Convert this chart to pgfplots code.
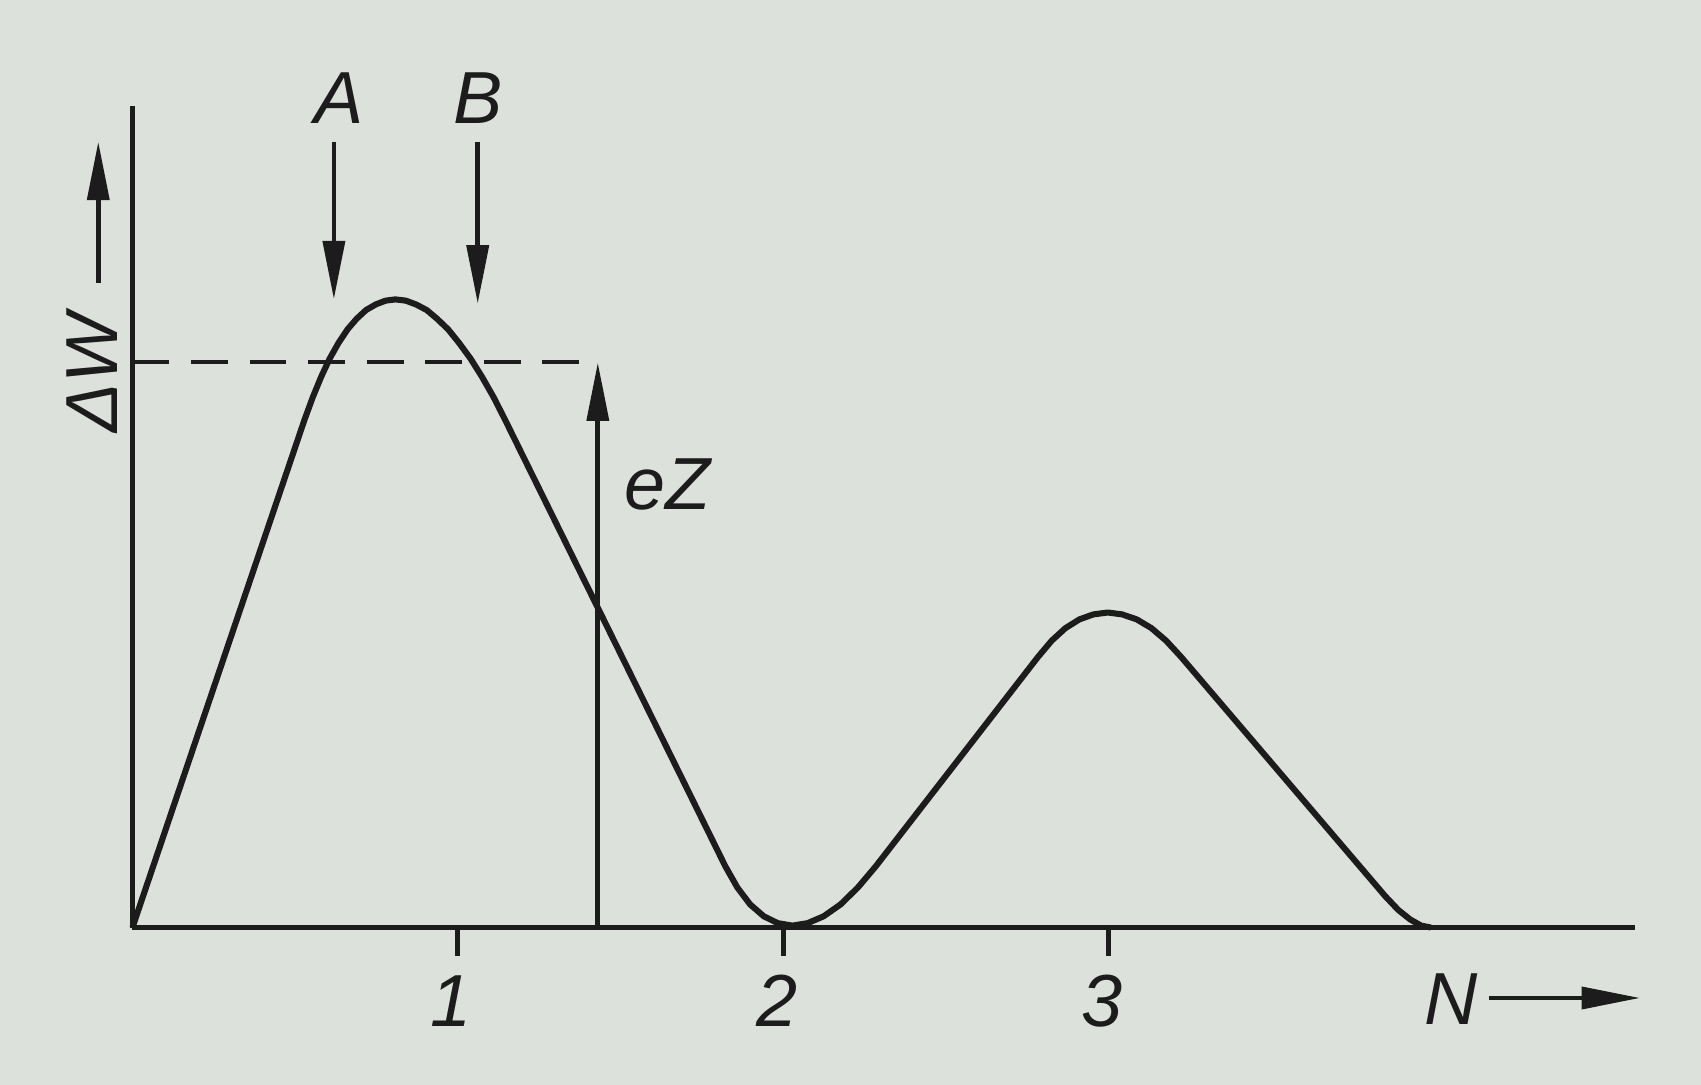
\documentclass[border=0pt]{standalone}
\usepackage{fontspec}
\setmainfont{Liberation Sans}
\usepackage{pgfplots}
\pgfplotsset{compat=1.18}
\usetikzlibrary{arrows.meta,backgrounds}

\definecolor{paper}{RGB}{221,225,219}
\definecolor{ink}{RGB}{28,28,28}

\tikzset{
  tip/.style={ink, line width=1.1pt, -{Triangle[length=13.5pt,width=5pt]}},
}

\begin{document}
\begin{tikzpicture}[font=\fontsize{17}{19}\selectfont\itshape]
\begin{axis}[
    x=75pt, y=143.75pt,
    xmin=0, xmax=4.617,
    ymin=0, ymax=1.317,
    axis lines=left,
    axis line style={-, line width=1.1pt, ink},
    xtick={1,2,3},
    xticklabels={1,2,3},
    ytick=\empty,
    tick align=outside,
    major tick length=6.5pt,
    tick style={line width=1.1pt, ink},
    xticklabel style={font=\fontsize{17}{19}\selectfont\itshape, text=ink, yshift=-1pt, xshift=-1.5pt},
    clip=false,
]
\coordinate (bl) at (axis cs:-0.407,-0.252);
\coordinate (tr) at (axis cs:4.82,1.487);

% energy curve: straight flanks, rounded tops and bottom
\addplot[ink, line width=1.4pt, line join=round] coordinates {
    (0,0) (0.528,0.813) (0.554,0.850) (0.580,0.883) (0.606,0.912)
    (0.633,0.937) (0.661,0.959) (0.689,0.976) (0.718,0.990) (0.748,0.999)
    (0.778,1.005) (0.808,1.007) (0.840,1.005) (0.871,0.999) (0.904,0.990)
    (0.936,0.976) (0.970,0.959) (1.004,0.937) (1.039,0.912) (1.074,0.883)
    (1.110,0.850) (1.146,0.813)
    (1.822,0.098) (1.859,0.064) (1.898,0.037)
    (1.940,0.018) (1.983,0.007) (2.028,0.003) (2.075,0.007) (2.124,0.018)
    (2.176,0.037) (2.229,0.064) (2.284,0.098) (2.783,0.434) (2.825,0.460)
    (2.867,0.480) (2.910,0.494) (2.953,0.502) (2.997,0.505) (3.041,0.502)
    (3.086,0.494) (3.131,0.480) (3.176,0.460) (3.222,0.434) (3.850,0.050)
    (3.890,0.028) (3.926,0.013) (3.960,0.003) (3.990,0)
};

% level and eZ arrow
\addplot[ink, line width=0.9pt, dash pattern=on 8.5pt off 5pt] coordinates {(0,0.906) (1.43,0.906)};
\addplot[tip] coordinates {(1.43,0) (1.43,0.906)};
\node[anchor=west, text=ink, inner sep=0pt] at (axis cs:1.51,0.71) {eZ};

% A and B markers
\addplot[tip] coordinates {(0.619,1.26) (0.619,1.007)};
\addplot[tip] coordinates {(1.061,1.26) (1.061,1.000)};
\node[text=ink] at (axis cs:0.635,1.330) {A};
\node[text=ink] at (axis cs:1.061,1.330) {B};

% axis names
\node[text=ink, rotate=90] at (axis cs:-0.125,0.889) {ΔW};
\addplot[tip] coordinates {(-0.105,1.033) (-0.105,1.26)};
\node[text=ink] at (axis cs:4.053,-0.115) {N};
\addplot[tip] coordinates {(4.17,-0.113) (4.633,-0.113)};
\end{axis}
\begin{scope}[on background layer]
\fill[paper] (bl) rectangle (tr);
\end{scope}
\pgfresetboundingbox
\path[use as bounding box] (bl) rectangle (tr);
\end{tikzpicture}
\end{document}
